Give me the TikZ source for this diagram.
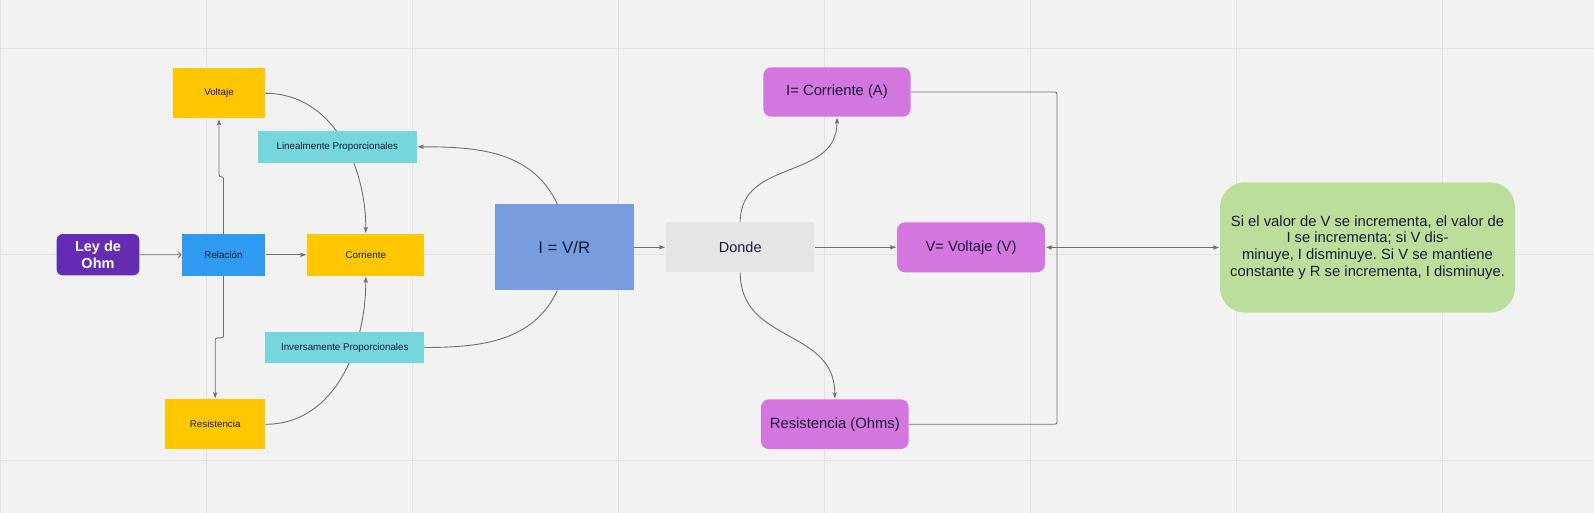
\documentclass[tikz,border=0pt]{standalone}
\usepackage{fontspec}
\setmainfont{Liberation Sans}
\usetikzlibrary{arrows.meta}
\pgfdeclarelayer{bg}
\pgfdeclarelayer{edges}
\pgfsetlayers{bg,edges,main}
\definecolor{bgc}{HTML}{F2F2F2}
\definecolor{gridc}{HTML}{E3E3E3}
\definecolor{yelc}{HTML}{FFC700}
\definecolor{cyanc}{HTML}{75D6DD}
\definecolor{relc}{HTML}{2F9AF0}
\definecolor{ohmc}{HTML}{652CB3}
\definecolor{ivrc}{HTML}{779DDE}
\definecolor{donc}{HTML}{E5E5E5}
\definecolor{magc}{HTML}{D376DF}
\definecolor{grnc}{HTML}{B7DE93}
\definecolor{txtc}{HTML}{1A1A38}
\definecolor{linec}{HTML}{707070}
\frenchspacing
\tikzset{
  box/.style={draw=none, inner sep=0pt, align=center, text=txtc, font=\fontsize{9.8}{11.5}\selectfont},
  ybox/.style={box, fill=yelc},
  cbox/.style={box, fill=cyanc},
  mbox/.style={box, fill=magc, rounded corners=8pt, font=\fontsize{14.8}{17}\selectfont},
  conn/.style={draw=linec, line width=0.9pt, -{Stealth[length=6pt,width=4.2pt,inset=1pt]}, shorten >=0.8pt},
  plainline/.style={draw=linec, line width=0.9pt},
}
\begin{document}
\begin{tikzpicture}[x=1pt,y=-1pt]
\useasboundingbox (0,0) rectangle (1594,513);
% nodes
\node[box, fill=ohmc, rounded corners=6pt, text=white, font=\fontsize{14.5}{16.5}\selectfont\bfseries, minimum width=82.6, minimum height=41.3] (ohm) at (98,254.7) {Ley de\\Ohm};
\node[box, fill=relc, minimum width=83.6, minimum height=41.7] (rel) at (223.5,254.8) {Relación};
\node[ybox, minimum width=117, minimum height=41.7] (cor) at (365.8,254.8) {Corriente};
\node[ybox, minimum width=92, minimum height=50] (volt) at (219,93.3) {Voltaje};
\node[cbox, minimum width=158.7, minimum height=31.7] (lin) at (337.3,146.8) {Linealmente Proporcionales};
\node[cbox, minimum width=159, minimum height=31.6] (inv) at (344.8,347.5) {Inversamente Proporcionales};
\node[ybox, minimum width=99.7, minimum height=50] (res) at (215.2,424.3) {Resistencia};
\node[box, fill=ivrc, minimum width=138.7, minimum height=86, font=\fontsize{16.8}{19}\selectfont] (ivr) at (564.3,247.3) {I = V/R};
\node[box, fill=donc, minimum width=148.3, minimum height=50, font=\fontsize{14.5}{17}\selectfont] (don) at (740.2,247.3) {Donde};
\node[mbox, minimum width=147.4, minimum height=49.4] (icor) at (837,92) {I= Corriente (A)};
\node[mbox, minimum width=148, minimum height=50] (volv) at (971,247.3) {V= Voltaje (V)};
\node[mbox, minimum width=147.7, minimum height=49.7] (rohm) at (834.8,424.2) {Resistencia (Ohms)};
\node[box, fill=grnc, fill opacity=0.92, text opacity=1, rounded corners=25pt, minimum width=295, minimum height=130.4, font=\fontsize{14.8}{16.7}\selectfont] (green) at (1367.5,247.5) {Si el valor de V se incrementa, el valor de\\I se incrementa; si V dis-\\minuye, I disminuye. Si V se mantiene\\constante y R se incrementa, I disminuye.};
\coordinate (jn) at (1057,247.5);
% background grid
\begin{pgfonlayer}{bg}
\fill[bgc] (0,0) rectangle (1594,513);
\foreach \x in {0.6,206.5,412.5,618.5,824.5,1030.5,1236.5,1442.5}
  \draw[gridc, line width=1.1pt] (\x,0) -- (\x,513);
\foreach \y in {48.5,254.5,460.5}
  \draw[gridc, line width=1.1pt] (0,\y) -- (1594,\y);
\end{pgfonlayer}
% connectors
\begin{pgfonlayer}{edges}
\draw[conn, -{Straight Barb[length=2.5pt,width=6pt]}, shorten >=0pt] (ohm) -- (rel);
\draw[conn] (rel) -- (cor);
\draw[conn, rounded corners=2pt] (rel.north) -- ++(0,-57) -| (volt.south);
\draw[conn, rounded corners=2pt] (rel.south) -- ++(0,62) -| (res.north);
\draw[conn] (volt.east) to[out=0,in=90] (cor.north);
\draw[conn] (res.east) to[out=0,in=-90] (cor.south);
\draw[conn] ([xshift=-7pt]ivr.north) to[out=115,in=0] (lin.east);
\draw[plainline] ([xshift=-7pt]ivr.south) to[out=-115,in=0] (inv.east);
\draw[conn] (ivr) -- (don);
\draw[conn] (don.north) to[out=90,in=-90,looseness=1.15] (icor.south);
\draw[conn] (don.south) to[out=-90,in=90,looseness=1.15] (rohm.north);
\draw[conn] (don) -- (volv);
\draw[plainline, rounded corners=2pt] (icor.east) -| (jn) |- (rohm.east);
\draw[conn] (jn) -- (volv.east);
\draw[conn] (jn) -- (green.west);
\end{pgfonlayer}
\end{tikzpicture}
\end{document}
